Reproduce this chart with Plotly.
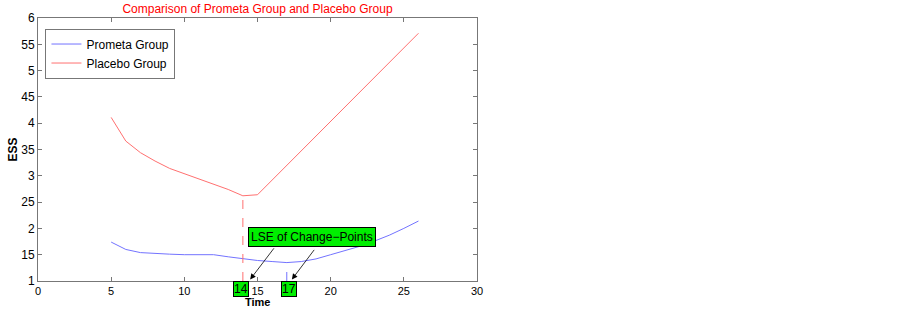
import plotly.graph_objects as go

time_placebo = [5, 6, 7, 8, 9, 10, 11, 12, 13, 14, 15, 26]
ess_placebo = [4.11, 3.66, 3.44, 3.28, 3.14, 3.04, 2.95, 2.85, 2.74, 2.62, 2.64, 5.71]

time_prometa = [5, 6, 7, 8, 9, 10, 11, 12, 13, 14, 15, 16, 17, 18, 19, 20, 21, 22, 23, 24, 25, 26]
ess_prometa = [1.74, 1.60, 1.54, 1.52, 1.51, 1.50, 1.50, 1.50, 1.46, 1.42, 1.39, 1.37, 1.35,
               1.37, 1.42, 1.50, 1.58, 1.66, 1.76, 1.87, 2.00, 2.14]

change_points = [14, 17]
change_ess = [2.62, 1.35]

x_ticks = [0, 5, 10, 15, 20, 25, 30]
y_ticks = [1, 1.5, 2, 2.5, 3, 3.5, 4, 4.5, 5, 5.5, 6]
y_ticktext = ["1", "15", "2", "25", "3", "35", "4", "45", "5", "55", "6"]

BLUE = "#7373ff"
RED = "#ff7070"
GREEN = "#00ee00"
FONT = "Liberation Sans, Arial, Helvetica, sans-serif"

W, H = 902, 310
ML, MR, MT, MB = 38, 425, 18, 29
PW = W - ML - MR

fig = go.Figure()
fig.add_trace(go.Scatter(x=time_prometa, y=ess_prometa, mode="lines", name="Prometa Group",
                         line=dict(color=BLUE, width=1)))
fig.add_trace(go.Scatter(x=time_placebo, y=ess_placebo, mode="lines", name="Placebo Group",
                         line=dict(color=RED, width=1)))
# dashed change-point markers
fig.add_trace(go.Scatter(x=[change_points[0], change_points[0]], y=[1, change_ess[0]], mode="lines",
                         line=dict(color=RED, width=1, dash="dash"), showlegend=False))
fig.add_trace(go.Scatter(x=[change_points[1], change_points[1]], y=[1, change_ess[1]], mode="lines",
                         line=dict(color=BLUE, width=1, dash="dash"), showlegend=False))

annotations = []
# label box
annotations.append(dict(x=18.73, y=1.84, xref="x", yref="y", text="LSE of Change\u2212Points",
                        showarrow=False, bgcolor=GREEN, bordercolor="black", borderwidth=1,
                        borderpad=2, font=dict(family=FONT, size=12, color="black")))
# arrows
for (hx, hy, tx, ty) in [(14.5, 1.03, 16.2, 1.65), (17.35, 1.03, 18.95, 1.62)]:
    annotations.append(dict(x=hx, y=hy, ax=tx, ay=ty, xref="x", yref="y", axref="x", ayref="y",
                            text="", showarrow=True, arrowhead=2, arrowsize=1.4, arrowwidth=0.8,
                            arrowcolor="black"))
# green tick labels
for cp, xoff in zip(change_points, [-0.15, 0.15]):
    annotations.append(dict(x=cp + xoff, y=0, xref="x", yref="paper", yanchor="top", yshift=0,
                            text=str(cp), showarrow=False, bgcolor=GREEN, bordercolor="black",
                            borderwidth=1, borderpad=0,
                            font=dict(family=FONT, size=12, color="black")))
# axis titles
annotations.append(dict(x=15, y=0, xref="x", yref="paper",
                        yanchor="bottom", yshift=-MB, text="<b>Time</b>", showarrow=False,
                        font=dict(family=FONT, size=11, color="black")))
annotations.append(dict(x=(12 - ML) / PW, y=0.5, xref="paper", yref="paper", xanchor="center",
                        yanchor="middle", text="<b>ESS</b>", textangle=-90, showarrow=False,
                        font=dict(family=FONT, size=12, color="black")))

fig.update_layout(
    width=W, height=H,
    margin=dict(l=ML, r=MR, t=MT, b=MB),
    paper_bgcolor="white", plot_bgcolor="white",
    font=dict(family=FONT, size=12, color="black"),
    title=dict(text="Comparison of Prometa Group and Placebo Group", x=257.5 / W,
               xanchor="center", y=0.985, yanchor="top",
               font=dict(family=FONT, size=12, color="red")),
    showlegend=True,
    legend=dict(x=0.017, y=0.96, xanchor="left", yanchor="top", bgcolor="white",
                bordercolor="#777777", borderwidth=1, font=dict(family=FONT, size=12),
                tracegroupgap=0, itemwidth=30),
    annotations=annotations,
)
fig.update_xaxes(range=[0, 30], tickvals=x_ticks, ticks="inside", ticklen=4, tickcolor="#777777",
                 tickfont=dict(size=11),
                 showline=True, linecolor="#777777", linewidth=1, mirror="ticks", showgrid=False,
                 zeroline=False, automargin=False)
fig.update_yaxes(range=[1, 6], tickvals=y_ticks, ticktext=y_ticktext, ticks="inside", ticklen=4,
                 tickcolor="#777777", showline=True, linecolor="#777777", linewidth=1, mirror="ticks",
                 showgrid=False, zeroline=False, automargin=False)

fig.write_html("out.html", config={"displayModeBar": False},
               post_script="document.body.style.margin='0';document.body.style.padding='0';")
